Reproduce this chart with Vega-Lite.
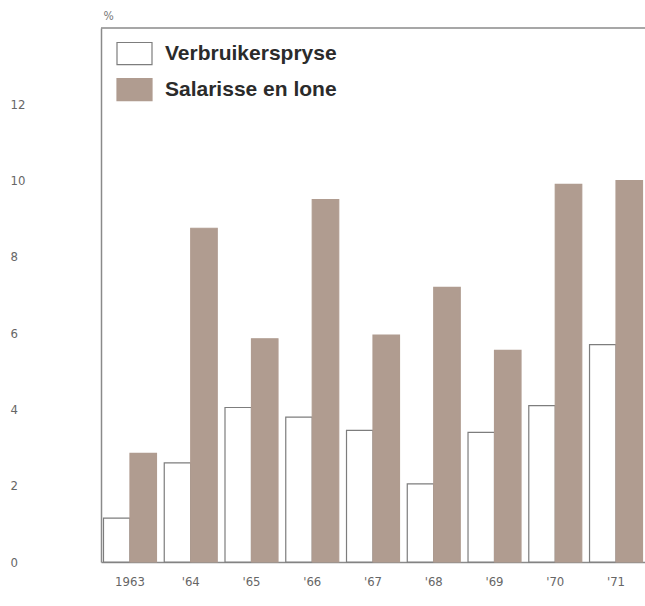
{
  "$schema": "https://vega.github.io/schema/vega-lite/v6.json",
  "width": 544,
  "height": 534,
  "autosize": {"type": "none"},
  "padding": {"left": 101, "top": 28, "right": 0, "bottom": 44},
  "background": "white",
  "config": {"view": {"stroke": null}, "font": "Liberation Sans"},
  "data": {
    "values": [
      {"year": "1963", "series": "Verbruikerspryse", "value": 1.15},
      {"year": "1963", "series": "Salarisse en lone", "value": 2.85},
      {"year": "'64", "series": "Verbruikerspryse", "value": 2.6},
      {"year": "'64", "series": "Salarisse en lone", "value": 8.75},
      {"year": "'65", "series": "Verbruikerspryse", "value": 4.05},
      {"year": "'65", "series": "Salarisse en lone", "value": 5.85},
      {"year": "'66", "series": "Verbruikerspryse", "value": 3.8},
      {"year": "'66", "series": "Salarisse en lone", "value": 9.5},
      {"year": "'67", "series": "Verbruikerspryse", "value": 3.45},
      {"year": "'67", "series": "Salarisse en lone", "value": 5.95},
      {"year": "'68", "series": "Verbruikerspryse", "value": 2.05},
      {"year": "'68", "series": "Salarisse en lone", "value": 7.2},
      {"year": "'69", "series": "Verbruikerspryse", "value": 3.4},
      {"year": "'69", "series": "Salarisse en lone", "value": 5.55},
      {"year": "'70", "series": "Verbruikerspryse", "value": 4.1},
      {"year": "'70", "series": "Salarisse en lone", "value": 9.9},
      {"year": "'71", "series": "Verbruikerspryse", "value": 5.7},
      {"year": "'71", "series": "Salarisse en lone", "value": 10.0}
    ]
  },
  "layer": [
    {
      "mark": {"type": "bar", "strokeWidth": 1.2},
      "encoding": {
        "x": {
          "field": "year",
          "type": "nominal",
          "scale": {
            "domain": ["1963", "'64", "'65", "'66", "'67", "'68", "'69", "'70", "'71"],
            "paddingInner": 0.128,
            "paddingOuter": 0.041
          },
          "axis": {
            "title": null,
            "labelAngle": 0,
            "ticks": false,
            "tickSize": 0,
            "domain": true,
            "domainColor": "#8a8a8a",
            "domainWidth": 1.5,
            "labelPadding": 13,
            "labelFont": "'DejaVu Sans Condensed', 'Liberation Sans Narrow', sans-serif",
            "labelFontSize": 13,
            "labelColor": "#666666"
          }
        },
        "xOffset": {
          "field": "series",
          "type": "nominal",
          "scale": {"domain": ["Verbruikerspryse", "Salarisse en lone"], "paddingInner": 0, "paddingOuter": 0}
        },
        "y": {
          "field": "value",
          "type": "quantitative",
          "scale": {"domain": [0, 14], "nice": false},
          "axis": {
            "values": [0, 2, 4, 6, 8, 10, 12],
            "grid": false,
            "ticks": false,
            "tickSize": 0,
            "domain": true,
            "domainColor": "#8a8a8a",
            "domainWidth": 1.5,
            "labelAlign": "left",
            "labelPadding": 91,
            "labelFont": "'DejaVu Sans Condensed', 'Liberation Sans Narrow', sans-serif",
            "labelFontSize": 13,
            "labelColor": "#666666",
            "title": "%",
            "titleAngle": 0,
            "titleX": 7,
            "titleY": -13,
            "titleAlign": "center",
            "titleBaseline": "middle",
            "titleFontSize": 12,
            "titleFontWeight": "normal",
            "titleColor": "#777777",
            "titleFont": "'DejaVu Sans Condensed', 'Liberation Sans Narrow', sans-serif"
          }
        },
        "fill": {
          "field": "series",
          "type": "nominal",
          "scale": {"domain": ["Verbruikerspryse", "Salarisse en lone"], "range": ["#ffffff", "#b09c90"]},
          "legend": {
            "title": null,
            "orient": "none",
            "legendX": 15,
            "legendY": 7,
            "symbolType": "M-1,-0.63H1V0.63H-1Z",
            "symbolSize": 1225,
            "symbolStrokeWidth": 1.2,
            "symbolOpacity": 1,
            "labelFont": "Liberation Sans",
            "labelFontSize": 21,
            "labelFontWeight": "bold",
            "labelColor": "#2b2b2b",
            "labelOffset": 12,
            "rowPadding": 4,
            "labelLimit": 400
          }
        },
        "stroke": {
          "field": "series",
          "type": "nominal",
          "scale": {"domain": ["Verbruikerspryse", "Salarisse en lone"], "range": ["#7d7d7d", "#b09c90"]},
          "legend": null
        }
      }
    },
    {
      "data": {"values": [{}]},
      "mark": {"type": "rule", "color": "#8a8a8a", "strokeWidth": 1.5},
      "encoding": {"y": {"datum": 14}}
    }
  ]
}
